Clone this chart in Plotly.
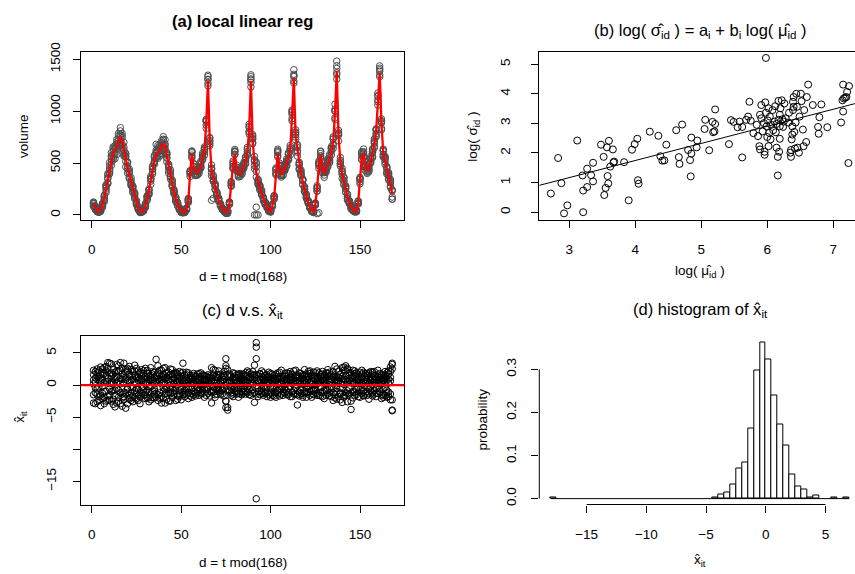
import math
import plotly.graph_objects as go

W, H = 855, 574
FONT = "Liberation Sans, Arial, Helvetica, sans-serif"

# ---------------- panel (a): fitted weekly profile (red line) ----------------
hours = list(range(1, 169))
mu_fit = [
    105, 70, 42, 35, 50, 90, 160, 250, 340, 440, 530, 600, 620, 650, 710, 750, 720, 620, 540, 460, 390, 320, 250, 180,
    115, 65, 35, 30, 45, 90, 160, 230, 330, 430, 530, 590, 600, 615, 660, 690, 660, 560, 450, 390, 300, 220, 150, 105,
    60, 32, 25, 30, 55, 140, 400, 590, 460, 410, 405, 430, 480, 560, 620, 880, 1290, 710, 430, 340, 270, 200, 140, 95,
    60, 38, 28, 32, 110, 300, 480, 590, 450, 400, 395, 420, 470, 520, 600, 820, 1290, 720, 500, 390, 320, 260, 210, 150,
    110, 80, 40, 35, 90, 170, 420, 590, 460, 390, 410, 450, 500, 560, 620, 960, 1320, 760, 640, 470, 400, 320, 240, 180,
    120, 75, 40, 30, 100, 250, 480, 580, 440, 400, 440, 490, 540, 620, 700, 980, 1390, 760, 520, 400, 320, 240, 170, 120,
    85, 50, 35, 35, 120, 330, 560, 590, 450, 430, 460, 520, 590, 680, 800, 1100, 1370, 880, 600, 520, 430, 370, 300, 200,
]

# ---------------- standardized residuals x_it, one list per week ----------------
resid_w1 = [
    0.8, -1.2, 2.5, -0.3, 1.6, -2.1, 0.4, 2.9, -1.7, 0.2, 3.3, -0.9, 1.1, -2.8, 0.6, 3.5, -1.4, 0.3, 2.0, -0.7, 1.3, -2.4, 0.9, 3.1,
    -0.5, 1.2, -1.8, 0.7, 2.2, -1.1, 0.3, -2.6, 1.5, 0.4, -0.9, 4.0, -1.5, 0.8, 2.3, -0.4, 1.0, -2.2, 0.6, -1.3, 1.7, 0.2, -0.8, 1.4,
    0.5, -0.7, 3.4, -1.2, 0.9, -0.3, 1.1, -0.6, 0.4, 1.3, -0.9, 0.2, -1.4, 0.8, 0.1, -0.5, 1.6, -0.2, 0.7, -1.1, 0.3, 1.2, -0.4, 0.6,
    -0.8, 1.4, -3.5, 0.3, -1.0, 0.7, 1.9, -0.4, 0.5, -1.3, 0.9, 0.2, -0.6, 1.5, -0.3, 0.8, -1.6, 0.4, 1.1, -17.7, 0.6, -0.9, 1.3, -0.2,
    0.7, -1.1, 0.3, 1.8, -0.5, 1.0, -1.9, 0.4, 0.9, -0.7, 1.4, -0.3, 0.6, -1.2, 2.1, 0.2, -0.8, 1.1, -3.1, 0.5, -0.4, 1.3, -1.0, 0.3,
    0.9, -0.6, 1.5, -1.4, 0.2, 0.8, -0.3, 1.6, -1.1, 0.4, 1.9, -0.7, 0.5, -1.8, 1.2, 2.9, -0.5, 0.7, -2.3, 1.4, 0.1, -1.2, 2.4, -0.6,
    -3.8, 1.1, 0.4, -1.5, 0.8, 2.0, -0.9, 0.3, 1.3, -0.4, -2.2, 0.9, 1.6, -0.8, 0.5, -1.3, 1.8, 0.2, -0.7, 1.2, -1.9, 2.2, 0.6, -4.0,
]
resid_w2 = [
    -1.5, 2.1, -0.6, 1.4, -3.2, 0.9, 1.8, -1.0, 2.6, -2.3, 0.5, 1.7, -3.4, 2.2, -0.8, 1.0, -2.0, 3.4, -1.2, 0.7, -1.6, 2.4, -0.4, 1.5,
    1.1, -1.6, 0.5, 2.4, -0.9, 1.3, -2.0, 0.8, -0.3, 2.1, -1.4, 0.6, 3.0, -2.1, 0.2, 1.6, -0.7, 1.9, -1.1, 2.5, -0.5, 1.0, 1.8, -1.7,
    -0.9, 1.4, 0.3, 0.8, -1.5, 1.9, -0.4, 1.2, -1.0, 0.6, 1.7, -0.8, 0.4, -1.3, 1.5, 0.9, -0.6, 1.1, -2.8, 0.5, 1.3, -0.7, 2.2, -1.1,
    1.2, -0.5, 3.0, 1.6, 0.7, -1.2, 0.4, 1.8, -0.9, 1.1, -0.2, 1.6, 0.8, -1.4, 0.5, 1.2, -0.4, 0.9, 3.1, 6.6, -1.0, 1.7, -0.6, 0.8,
    -1.3, 1.6, 0.8, -0.5, 1.2, -1.7, 0.7, 1.3, -0.6, 2.3, -1.1, 0.8, -1.5, 1.0, -0.3, 1.7, 0.6, -1.4, 0.4, 1.9, -0.8, 0.9, 1.5, -1.2,
    1.4, -1.0, 0.6, 2.0, -0.8, 1.1, -1.6, 0.5, 1.7, -0.9, 0.3, 1.3, -1.2, 0.9, 2.1, -1.5, 0.6, 1.2, -0.4, 2.7, -1.6, 3.0, -0.9, 1.5,
    0.6, -2.0, 1.8, 0.7, -1.1, 1.3, 0.3, -1.7, 0.9, 1.5, -0.6, 2.1, -1.2, 0.4, 1.1, -0.3, 0.8, 1.6, -1.5, 0.6, 0.9, -1.1, 2.8, 3.4,
]
resid_w3 = [
    2.3, -0.4, -2.6, 0.9, 2.8, -1.3, -2.9, 1.5, 0.6, 3.4, -2.5, 0.3, 2.0, -0.6, 3.0, -2.9, 1.7, -1.1, -3.6, 2.2, 0.5, -1.9, 2.1, -0.9,
    -2.2, 0.7, 1.9, -1.3, 0.5, 2.6, -0.8, 1.4, -2.3, 0.9, 2.0, -1.9, 0.4, 1.7, -2.8, 1.2, 2.7, -0.6, 1.5, -2.5, 0.8, -1.4, 2.0, 0.6,
    1.2, -2.3, 0.7, -0.8, 1.6, 0.4, -1.7, 0.9, 1.8, -1.2, 0.5, 1.3, -0.7, 1.6, -1.9, 0.7, 1.2, -1.0, 0.6, 2.4, -1.5, 0.4, -0.9, 1.7,
    -0.6, 2.1, -2.5, -0.7, 1.3, 0.5, -1.4, 0.7, 1.6, -0.6, 1.3, -1.0, 1.7, 0.3, -0.9, 2.0, 0.6, -1.3, -2.7, 5.9, 1.4, 0.3, -1.3, 1.2,
    1.5, -0.4, -1.5, 1.1, 0.6, -1.0, 1.7, -0.8, 1.1, 0.3, -1.6, 1.4, 0.9, -0.5, 1.2, -1.1, 2.2, 0.5, -0.9, 1.3, 1.8, -1.6, 0.7, 1.1,
    -1.1, 1.8, -0.8, 0.6, 1.4, -1.3, 1.9, -0.4, 0.8, 1.5, -1.6, 0.7, 2.0, -0.3, -1.2, 1.3, 2.5, -1.8, 1.6, -0.5, 2.3, 0.8, -2.6, 1.0,
    1.9, 0.5, -1.1, 1.4, -0.4, -1.9, 1.7, 0.8, -1.2, 0.6, 1.9, -0.9, 0.4, 1.4, -1.8, 2.3, -0.5, 1.0, 0.7, -1.6, 1.4, 0.3, -2.3, 3.2,
]
resid_w4 = [
    -2.8, 1.1, 1.9, -2.4, 0.3, 2.5, -1.0, -2.5, 3.5, -0.6, 1.4, -3.0, 0.8, 3.2, -1.9, 0.2, 2.6, -2.3, 1.2, -0.5, 2.9, -1.2, -2.6, 0.4,
    2.6, -0.7, -2.9, 1.0, -1.6, 0.2, 2.3, -1.1, 0.8, -1.9, 1.2, 0.3, -2.4, 2.3, 0.9, -1.0, 0.4, 1.2, -2.5, 0.5, 2.4, -0.9, 0.7, -2.2,
    -1.4, 0.8, 2.0, -1.8, 0.3, 1.1, 1.5, -1.3, 0.2, -1.7, 0.9, 1.8, -1.2, 0.2, 0.9, -1.6, 0.5, 1.4, 2.7, -0.8, -1.9, 1.6, 0.2, -0.4,
    0.9, -1.7, 4.1, -3.9, 0.5, -1.6, 1.1, -0.2, -1.4, 1.6, 0.6, -1.5, 0.2, 1.9, -1.2, -0.6, 1.7, 2.1, 0.8, 4.1, -1.8, 0.9, 2.2, -1.6,
    -0.6, 1.1, 2.0, -1.2, -1.6, 0.6, 1.0, -1.4, 2.0, -0.3, 0.7, 1.8, -0.9, 1.5, 0.4, -1.8, 1.0, 2.3, 1.6, -1.1, 0.2, -1.9, 2.4, -0.5,
    2.1, 0.4, -1.9, 1.2, -0.5, 2.2, 0.6, -1.7, 1.0, -2.1, 0.9, 1.8, -0.5, 1.6, -2.4, 0.8, -1.0, 2.1, 0.3, -2.7, 0.9, 1.5, 2.6, -1.4,
    -1.2, 1.5, 2.2, -0.6, 1.6, 0.7, -1.3, 2.0, 0.4, -1.6, 1.2, -0.3, 2.0, -1.4, 0.8, 1.3, -1.0, -1.6, 1.5, 2.1, -0.8, 1.7, 1.2, -3.9,
]
resid_w5 = [
    0.2, -2.9, 1.3, 2.2, -1.6, -0.2, 2.7, 0.5, -2.4, 1.8, -1.0, 2.4, -1.6, 0.5, 2.1, -1.2, -3.3, 1.4, 0.9, 2.6, -2.2, 0.8, 1.5, -2.0,
    0.3, 2.2, -1.2, -0.4, 1.8, -2.1, 1.1, 0.5, 2.7, -0.9, -2.0, 1.5, 0.9, -1.2, 1.4, -2.1, -1.4, 0.8, 2.0, -0.7, -1.9, 1.8, -0.3, 1.0,
    2.1, -0.2, -1.1, 1.5, -0.6, -2.1, 0.8, 0.4, -1.5, 1.2, -0.4, -1.6, 1.3, -0.2, 0.6, 1.4, -1.3, 0.3, -1.2, 1.6, 0.8, -1.4, 1.1, 0.4,
    -1.4, 0.8, -2.5, 2.4, -0.8, 1.4, -0.7, 1.2, 0.3, -1.9, 1.8, 0.7, -1.2, 0.6, 1.4, -1.5, 0.3, -0.8, 1.6, -1.4, 0.7, -1.5, 0.4, 1.9,
    0.9, -1.8, 0.5, 0.8, 1.7, -0.4, -1.2, 0.9, -1.7, 1.2, 0.5, -0.7, 1.9, -1.5, 0.8, 0.9, -1.4, -0.4, 1.2, -1.7, 1.0, 0.6, -1.3, 1.7,
    -0.3, -1.6, 1.1, -0.9, 1.9, 0.2, 1.1, 1.3, -1.8, 0.7, -0.7, -1.4, 1.4, 0.4, -0.6, -2.0, 1.3, 0.3, -1.4, 1.0, 2.8, -1.6, 0.5, 1.9,
    1.1, -1.0, 0.2, 1.9, -1.8, 0.9, 1.1, -0.9, 1.8, -1.0, 0.3, 1.4, -1.7, 0.9, -0.6, 1.6, 0.4, -2.1, 1.0, -0.4, 1.9, -1.8, -1.4, 2.5,
]
resid_w6 = [
    1.6, 0.5, -1.4, -1.8, 1.1, 1.9, -1.9, 2.2, 1.0, -1.6, 1.9, -2.2, -0.8, 1.3, -2.5, 2.3, 0.9, -1.8, 2.5, -2.9, 1.6, -0.3, -1.7, 2.2,
    -1.3, -2.4, 0.9, 1.8, -0.3, -1.5, 1.8, -2.0, 1.1, 1.7, -0.6, -1.3, 1.9, 0.5, -1.7, 2.6, -2.8, -0.4, 0.9, 1.6, -1.2, 0.3, -2.4, 1.7,
    -1.8, 1.9, -1.5, 0.6, 2.0, -1.2, 0.3, -1.9, 1.5, 0.8, -1.3, 0.7, 1.9, -0.9, -0.6, 1.3, 0.4, -1.7, 1.1, -0.3, 2.3, -0.6, 1.6, -1.5,
    0.6, 1.5, 2.6, -3.5, 1.7, -0.4, -1.8, 0.9, -0.5, 1.7, -1.4, 1.1, 0.8, -1.0, 2.2, -0.7, 1.2, 1.5, -1.2, 1.6, -0.5, 1.8, -1.0, 0.5,
    -1.2, 0.5, 1.3, -1.9, 0.6, 1.5, -0.6, 1.9, 0.4, -1.4, 1.1, -1.2, 0.3, 1.8, -1.8, 1.2, 0.4, 1.5, -1.5, 0.7, -1.3, 1.6, 0.2, -1.9,
    1.3, 2.2, 0.1, -1.5, 0.9, -1.6, 0.4, -1.1, 2.1, 1.2, -0.9, 2.4, -1.7, 0.9, 1.4, 0.6, -2.2, 1.1, -1.2, 0.5, -1.9, 2.2, -1.3, 0.7,
    -2.5, 2.3, -1.6, 0.8, 1.2, -0.7, 2.3, -1.6, 0.6, 1.8, -1.4, 0.7, 0.9, 2.1, -1.3, 0.3, 1.2, 0.6, -1.9, 1.6, -1.2, 0.9, 2.1, -2.3,
]
resid_weeks = [resid_w1, resid_w2, resid_w3, resid_w4, resid_w5, resid_w6]

extra_hour = [91, 92, 93, 67, 68, 126, 127]
extra_volume = [0, 0, 0, 140, 160, 12, 20]

# ---------------- panel (b) ----------------
log_mu = [2.72, 2.83, 2.88, 2.92, 2.97, 3.12, 3.20, 3.21, 3.21, 3.27, 3.27, 3.33, 3.36, 3.36, 3.48, 3.52, 3.53, 3.55, 3.57, 3.58,
          3.59, 3.60, 3.62, 3.66, 3.67, 3.68, 3.83, 3.90, 3.95, 3.99, 4.03, 4.04, 4.05, 4.22, 4.35, 4.38, 4.41, 4.44, 4.47, 4.62,
          4.66, 4.67, 4.71, 4.80, 4.83, 4.84, 4.85, 4.85, 4.93, 4.94, 5.05, 5.06, 5.12, 5.17, 5.18, 5.20, 5.21, 5.21, 5.42, 5.45,
          5.49, 5.55, 5.58, 5.62, 5.62, 5.68, 5.71, 5.73, 5.75, 5.79, 5.84, 5.86, 5.88, 5.89, 5.89, 5.91, 5.91, 5.93, 5.95, 5.96,
          5.96, 5.97, 5.98, 5.98, 5.99, 6.00, 6.01, 6.02, 6.02, 6.03, 6.04, 6.05, 6.06, 6.08, 6.09, 6.11, 6.12, 6.13, 6.14, 6.14,
          6.16, 6.16, 6.17, 6.17, 6.18, 6.19, 6.19, 6.19, 6.20, 6.22, 6.23, 6.24, 6.25, 6.26, 6.28, 6.32, 6.33, 6.35, 6.36, 6.36,
          6.37, 6.38, 6.38, 6.39, 6.39, 6.40, 6.40, 6.41, 6.42, 6.43, 6.44, 6.45, 6.46, 6.48, 6.49, 6.51, 6.52, 6.54, 6.55, 6.56,
          6.59, 6.60, 6.62, 6.69, 6.77, 6.78, 6.79, 6.82, 6.91, 7.12, 7.15, 7.15, 7.14, 7.18, 7.20, 7.21, 7.23, 7.24, 7.16]
log_sigma = [0.63, 1.83, 0.98, -0.04, 0.23, 2.42, 1.24, 0.00, 0.73, 1.47, 0.85, 1.25, 1.67, 1.04, 2.28, 1.87, 0.58, 0.82, 2.19, 1.22,
             0.97, 2.41, 1.54, 2.12, 1.68, 1.71, 1.69, 0.40, 2.11, 2.30, 2.48, 1.08, 0.96, 2.72, 2.58, 1.89, 1.74, 1.75, 2.28, 2.77,
             1.86, 1.63, 2.96, 2.10, 1.76, 1.21, 2.52, 1.98, 2.19, 2.42, 2.81, 3.12, 2.09, 3.05, 2.70, 2.73, 2.98, 3.47, 2.30, 3.11,
             3.05, 2.87, 3.06, 1.85, 2.88, 3.12, 3.23, 3.73, 3.09, 2.67, 2.95, 2.57, 2.23, 3.29, 2.12, 3.62, 3.17, 2.73, 3.01, 2.04,
             1.94, 3.71, 5.21, 3.36, 2.90, 2.54, 3.10, 2.23, 3.51, 2.68, 3.23, 2.46, 2.95, 3.45, 2.77, 3.06, 3.58, 2.70, 2.18, 2.98,
             1.24, 1.87, 3.12, 3.76, 2.04, 3.29, 2.90, 2.48, 3.51, 3.78, 3.14, 2.88, 3.06, 3.67, 3.17, 3.03, 3.36, 2.01, 2.10, 1.87,
             2.46, 2.62, 2.90, 3.73, 3.45, 3.56, 3.89, 2.71, 2.15, 3.03, 4.00, 3.56, 2.18, 2.01, 3.23, 4.00, 3.75, 2.79, 2.23, 3.45,
             2.37, 3.89, 4.31, 3.62, 2.88, 2.65, 3.21, 3.64, 2.87, 3.03, 4.31, 3.40, 3.78, 3.87, 3.89, 4.06, 1.66, 4.26, 3.84]
line_a, line_b = -0.562, 0.577  # fitted log(sigma) = a + b log(mu)

# ---------------- panel (d): histogram (density) ----------------
hist_left = [-18.0, -4.5, -4.0, -3.5, -3.0, -2.5, -2.0, -1.5, -1.0, -0.5, 0.0, 0.5, 1.0, 1.5, 2.0, 2.5, 3.0, 3.5, 4.0, 5.5, 6.5]
hist_density = [0.002, 0.003, 0.009, 0.014, 0.033, 0.070, 0.085, 0.164, 0.297, 0.362, 0.324, 0.239, 0.171, 0.123, 0.055,
                0.028, 0.022, 0.003, 0.007, 0.002, 0.002]
hist_binwidth = 0.5
hist_lo, hist_hi = -18.0, 7.0

# ---------------- derived series ----------------
a_x, a_y, c_x, c_y = [], [], [], []
for week in resid_weeks:
    for i, r in enumerate(week[:168]):
        m = mu_fit[i]
        s = math.exp(line_a + line_b * math.log(m))
        a_x.append(hours[i]); a_y.append(m + s * r)
        c_x.append(hours[i]); c_y.append(r)
a_x += extra_hour; a_y += extra_volume

# ---------------- layout helpers ----------------
def px_x(p): return p / W
def px_y(p): return 1 - p / H

top_dom = [px_y(214.5), px_y(43.5)]
bot_dom = [px_y(504.3), px_y(333.3)]
left_dom = [px_x(81), px_x(404)]
right_dom = [px_x(539.3), 1.0]

fig = go.Figure()

GRAY = "#4d4d4d"
fig.add_trace(go.Scatter(x=a_x, y=a_y, mode="markers", xaxis="x", yaxis="y",
                         marker=dict(symbol="circle-open", size=6.5, color=GRAY, line=dict(width=1, color=GRAY)),
                         showlegend=False, hoverinfo="skip"))
fig.add_trace(go.Scatter(x=hours, y=mu_fit, mode="lines", xaxis="x", yaxis="y",
                         line=dict(color="#ff0000", width=2.3), showlegend=False))

fig.add_trace(go.Scatter(x=log_mu, y=log_sigma, mode="markers", xaxis="x2", yaxis="y2",
                         marker=dict(symbol="circle-open", size=7, color="black", line=dict(width=1, color="black")),
                         showlegend=False))
b_range = [2.545, 7.33]
fig.add_trace(go.Scatter(x=b_range, y=[line_a + line_b * v for v in b_range], mode="lines", xaxis="x2", yaxis="y2",
                         line=dict(color="black", width=1), showlegend=False))

fig.add_trace(go.Scatter(x=c_x, y=c_y, mode="markers", xaxis="x3", yaxis="y3",
                         marker=dict(symbol="circle-open", size=6.5, color="black", line=dict(width=1, color="black")),
                         showlegend=False, hoverinfo="skip"))

fig.add_trace(go.Scatter(x=[hist_lo, hist_hi], y=[0, 0], mode="lines", xaxis="x4", yaxis="y4",
                         line=dict(color="black", width=1), showlegend=False))
fig.add_trace(go.Bar(x=[l + hist_binwidth / 2 for l in hist_left], y=hist_density, width=hist_binwidth,
                     xaxis="x4", yaxis="y4", marker=dict(color="white", line=dict(color="black", width=1)),
                     showlegend=False))

tickfont = dict(family=FONT, size=13.5, color="black")
common = dict(showgrid=False, zeroline=False, ticks="outside", ticklen=7, tickwidth=1, tickcolor="black",
              tickfont=tickfont, linecolor="black", linewidth=1)

XSO = 10
fig.update_layout(
    width=W, height=H, margin=dict(l=0, r=0, t=0, b=0),
    paper_bgcolor="white", plot_bgcolor="white", bargap=0,
    xaxis=dict(domain=left_dom, anchor="y", range=[-6.0, 174.6], tickvals=[0, 50, 100, 150],
               showline=True, mirror=True, ticklabelstandoff=XSO, **common),
    yaxis=dict(domain=top_dom, anchor="x", range=[-47, 1573], tickvals=[0, 500, 1000, 1500], tickangle=-90,
               showline=True, mirror=True, ticklabelstandoff=8, **common),
    xaxis2=dict(domain=right_dom, anchor="y2", range=b_range, tickvals=[3, 4, 5, 6, 7],
                showline=True, mirror=True, ticklabelstandoff=XSO, **common),
    yaxis2=dict(domain=top_dom, anchor="x2", range=[-0.256, 5.42], tickvals=[0, 1, 2, 3, 4, 5], tickangle=-90,
                showline=True, mirror=False, ticklabelstandoff=16, **common),
    xaxis3=dict(domain=left_dom, anchor="y3", range=[-6.0, 174.6], tickvals=[0, 50, 100, 150],
                showline=True, mirror=True, ticklabelstandoff=XSO, **common),
    yaxis3=dict(domain=bot_dom, anchor="x3", range=[-18.6, 7.56], tickvals=[5, 0, -5, -10, -15],
                ticktext=["5", "0", "\u22125", "", "\u221215"], tickangle=-90,
                showline=True, mirror=True, ticklabelstandoff=12, **common),
    xaxis4=dict(domain=right_dom, anchor="y4", range=[-18.96, 7.47], tickvals=[-15, -10, -5, 0, 5],
                ticktext=["\u221215", "\u221210", "\u22125", "0", "5"], showline=False, ticklabelstandoff=XSO, **common),
    yaxis4=dict(domain=bot_dom, anchor="x4", range=[-0.0137, 0.3765], tickvals=[0, 0.1, 0.2, 0.3],
                ticktext=["0.0", "0.1", "0.2", "0.3"], tickangle=-90, showline=False, ticklabelstandoff=10, **common),
)

# red reference line at 0 in panel (c), R-style partial axis lines in panel (d)
fig.add_shape(type="line", xref="x3 domain", yref="y3", x0=0, x1=1, y0=0, y1=0,
              line=dict(color="#ff0000", width=2.3))
fig.add_shape(type="line", xref="x4", yref="y4 domain", x0=-15, x1=5, y0=0, y1=0,
              line=dict(color="black", width=1))
fig.add_shape(type="line", xref="x4 domain", yref="y4", x0=0, x1=0, y0=0, y1=0.3,
              line=dict(color="black", width=1))

def ann(text, xp, yp, size=13.5, angle=0):
    fig.add_annotation(text=text, x=px_x(xp), y=px_y(yp), xref="paper", yref="paper",
                       xanchor="center", yanchor="middle", showarrow=False, textangle=angle,
                       font=dict(family=FONT, size=size, color="black"))

HAT = "\u0302"
ann("<b>(a) local linear reg</b>", 242.5, 12, size=16.5)
ann("(b) log( \u03c3" + HAT + "<sub>id</sub> ) = a<sub>i</sub> + b<sub>i</sub> log( \u03bc" + HAT + "<sub>id</sub> )",
    700, 22, size=16.5)
ann("(c) d v.s. x" + HAT + "<sub>it</sub>", 242.5, 307, size=16.5)
ann("(d) histogram of x" + HAT + "<sub>it</sub>", 700, 306, size=16.5)

ann("d = t mod(168)", 242.5, 272)
ann("volume", 23.3, 129, angle=-90)
ann("log( \u03bc" + HAT + "<sub>id</sub> )", 700, 267)
ann("log( \u03c3" + HAT + "<sub>id</sub> )", 474, 130, angle=-90)
ann("d = t mod(168)", 242.5, 563)
ann("x" + HAT + "<sub>it</sub>", 21, 415, angle=-90)
ann("x" + HAT + "<sub>it</sub>", 700, 561)
ann("probability", 482.7, 418, angle=-90)

fig.write_html("out.html")
